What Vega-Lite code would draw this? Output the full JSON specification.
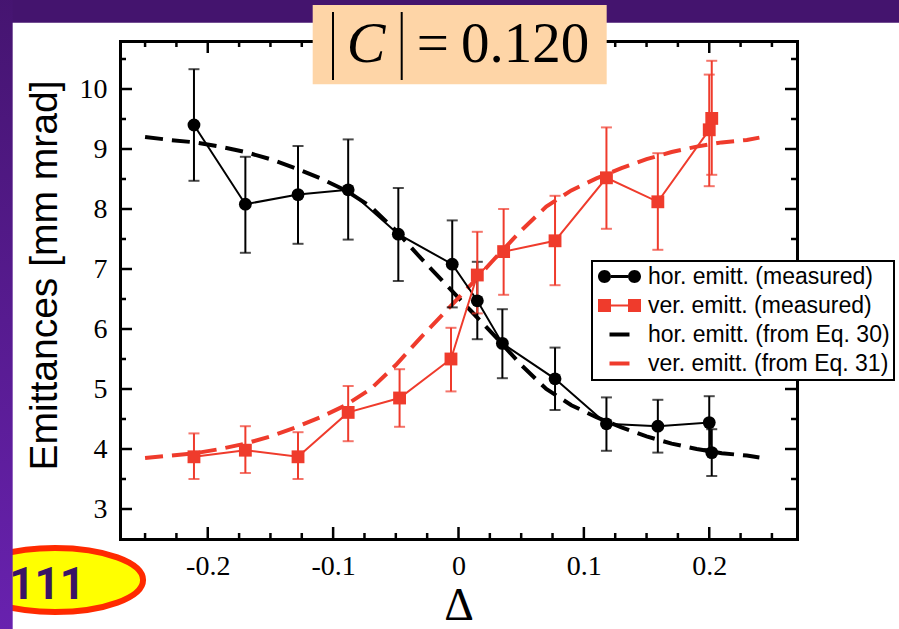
{
  "$schema": "https://vega.github.io/schema/vega-lite/v6.json",
  "width": 677,
  "height": 498,
  "autosize": {"type": "none"},
  "padding": {"left": 120, "top": 41, "right": 102, "bottom": 90},
  "background": "white",
  "config": {"view": {"stroke": null}},
  "datasets": {
    "xmaj": [{"v": -0.2}, {"v": -0.1}, {"v": 0}, {"v": 0.1}, {"v": 0.2}],
    "xmin": [{"v": -0.25}, {"v": -0.225}, {"v": -0.175}, {"v": -0.15}, {"v": -0.125}, {"v": -0.075}, {"v": -0.05}, {"v": -0.025}, {"v": 0.025}, {"v": 0.05}, {"v": 0.075}, {"v": 0.125}, {"v": 0.15}, {"v": 0.175}, {"v": 0.225}, {"v": 0.25}],
    "ymaj": [{"v": 3}, {"v": 4}, {"v": 5}, {"v": 6}, {"v": 7}, {"v": 8}, {"v": 9}, {"v": 10}],
    "ymin": [{"v": 3.5}, {"v": 4.5}, {"v": 5.5}, {"v": 6.5}, {"v": 7.5}, {"v": 8.5}, {"v": 9.5}, {"v": 10.5}],
    "meas": [
      {"series": "hor. emitt. (measured)", "x": -0.211, "y": 9.40, "lo": 8.47, "hi": 10.33},
      {"series": "hor. emitt. (measured)", "x": -0.170, "y": 8.08, "lo": 7.27, "hi": 8.87},
      {"series": "hor. emitt. (measured)", "x": -0.128, "y": 8.24, "lo": 7.42, "hi": 9.05},
      {"series": "hor. emitt. (measured)", "x": -0.088, "y": 8.32, "lo": 7.49, "hi": 9.16},
      {"series": "hor. emitt. (measured)", "x": -0.048, "y": 7.58, "lo": 6.80, "hi": 8.35},
      {"series": "hor. emitt. (measured)", "x": -0.005, "y": 7.08, "lo": 6.36, "hi": 7.81},
      {"series": "hor. emitt. (measured)", "x": 0.015, "y": 6.47, "lo": 5.83, "hi": 7.12},
      {"series": "hor. emitt. (measured)", "x": 0.035, "y": 5.76, "lo": 5.18, "hi": 6.33},
      {"series": "hor. emitt. (measured)", "x": 0.077, "y": 5.17, "lo": 4.65, "hi": 5.69},
      {"series": "hor. emitt. (measured)", "x": 0.118, "y": 4.42, "lo": 3.97, "hi": 4.86},
      {"series": "hor. emitt. (measured)", "x": 0.159, "y": 4.38, "lo": 3.94, "hi": 4.82},
      {"series": "hor. emitt. (measured)", "x": 0.200, "y": 4.44, "lo": 4.00, "hi": 4.88},
      {"series": "hor. emitt. (measured)", "x": 0.202, "y": 3.94, "lo": 3.55, "hi": 4.33},
      {"series": "ver. emitt. (measured)", "x": -0.211, "y": 3.87, "lo": 3.50, "hi": 4.26},
      {"series": "ver. emitt. (measured)", "x": -0.170, "y": 3.98, "lo": 3.60, "hi": 4.38},
      {"series": "ver. emitt. (measured)", "x": -0.128, "y": 3.87, "lo": 3.50, "hi": 4.28},
      {"series": "ver. emitt. (measured)", "x": -0.088, "y": 4.61, "lo": 4.13, "hi": 5.05},
      {"series": "ver. emitt. (measured)", "x": -0.047, "y": 4.85, "lo": 4.37, "hi": 5.33},
      {"series": "ver. emitt. (measured)", "x": -0.006, "y": 5.50, "lo": 4.96, "hi": 6.02},
      {"series": "ver. emitt. (measured)", "x": 0.015, "y": 6.90, "lo": 6.26, "hi": 7.62},
      {"series": "ver. emitt. (measured)", "x": 0.036, "y": 7.29, "lo": 6.57, "hi": 8.00},
      {"series": "ver. emitt. (measured)", "x": 0.077, "y": 7.47, "lo": 6.73, "hi": 8.22},
      {"series": "ver. emitt. (measured)", "x": 0.118, "y": 8.52, "lo": 7.67, "hi": 9.36},
      {"series": "ver. emitt. (measured)", "x": 0.159, "y": 8.12, "lo": 7.32, "hi": 8.93},
      {"series": "ver. emitt. (measured)", "x": 0.200, "y": 9.32, "lo": 8.38, "hi": 10.24},
      {"series": "ver. emitt. (measured)", "x": 0.202, "y": 9.51, "lo": 8.57, "hi": 10.47}
    ],
    "curves": [
      {"series": "hor. emitt. (from Eq. 30)", "x": -0.25, "y": 9.20},
      {"series": "hor. emitt. (from Eq. 30)", "x": -0.23, "y": 9.15},
      {"series": "hor. emitt. (from Eq. 30)", "x": -0.21, "y": 9.11},
      {"series": "hor. emitt. (from Eq. 30)", "x": -0.19, "y": 9.04},
      {"series": "hor. emitt. (from Eq. 30)", "x": -0.17, "y": 8.95},
      {"series": "hor. emitt. (from Eq. 30)", "x": -0.15, "y": 8.83},
      {"series": "hor. emitt. (from Eq. 30)", "x": -0.13, "y": 8.68},
      {"series": "hor. emitt. (from Eq. 30)", "x": -0.11, "y": 8.51},
      {"series": "hor. emitt. (from Eq. 30)", "x": -0.09, "y": 8.31},
      {"series": "hor. emitt. (from Eq. 30)", "x": -0.07, "y": 8.04},
      {"series": "hor. emitt. (from Eq. 30)", "x": -0.05, "y": 7.64},
      {"series": "hor. emitt. (from Eq. 30)", "x": -0.03, "y": 7.18},
      {"series": "hor. emitt. (from Eq. 30)", "x": -0.01, "y": 6.74},
      {"series": "hor. emitt. (from Eq. 30)", "x": 0.0, "y": 6.52},
      {"series": "hor. emitt. (from Eq. 30)", "x": 0.01, "y": 6.30},
      {"series": "hor. emitt. (from Eq. 30)", "x": 0.03, "y": 5.86},
      {"series": "hor. emitt. (from Eq. 30)", "x": 0.05, "y": 5.40},
      {"series": "hor. emitt. (from Eq. 30)", "x": 0.07, "y": 5.00},
      {"series": "hor. emitt. (from Eq. 30)", "x": 0.09, "y": 4.73},
      {"series": "hor. emitt. (from Eq. 30)", "x": 0.11, "y": 4.53},
      {"series": "hor. emitt. (from Eq. 30)", "x": 0.13, "y": 4.36},
      {"series": "hor. emitt. (from Eq. 30)", "x": 0.15, "y": 4.21},
      {"series": "hor. emitt. (from Eq. 30)", "x": 0.17, "y": 4.09},
      {"series": "hor. emitt. (from Eq. 30)", "x": 0.19, "y": 4.00},
      {"series": "hor. emitt. (from Eq. 30)", "x": 0.21, "y": 3.93},
      {"series": "hor. emitt. (from Eq. 30)", "x": 0.23, "y": 3.89},
      {"series": "hor. emitt. (from Eq. 30)", "x": 0.24, "y": 3.86},
      {"series": "ver. emitt. (from Eq. 31)", "x": -0.25, "y": 3.85},
      {"series": "ver. emitt. (from Eq. 31)", "x": -0.23, "y": 3.89},
      {"series": "ver. emitt. (from Eq. 31)", "x": -0.21, "y": 3.93},
      {"series": "ver. emitt. (from Eq. 31)", "x": -0.19, "y": 4.00},
      {"series": "ver. emitt. (from Eq. 31)", "x": -0.17, "y": 4.09},
      {"series": "ver. emitt. (from Eq. 31)", "x": -0.15, "y": 4.21},
      {"series": "ver. emitt. (from Eq. 31)", "x": -0.13, "y": 4.36},
      {"series": "ver. emitt. (from Eq. 31)", "x": -0.11, "y": 4.53},
      {"series": "ver. emitt. (from Eq. 31)", "x": -0.09, "y": 4.73},
      {"series": "ver. emitt. (from Eq. 31)", "x": -0.07, "y": 5.00},
      {"series": "ver. emitt. (from Eq. 31)", "x": -0.05, "y": 5.40},
      {"series": "ver. emitt. (from Eq. 31)", "x": -0.03, "y": 5.86},
      {"series": "ver. emitt. (from Eq. 31)", "x": -0.01, "y": 6.30},
      {"series": "ver. emitt. (from Eq. 31)", "x": 0.0, "y": 6.52},
      {"series": "ver. emitt. (from Eq. 31)", "x": 0.01, "y": 6.74},
      {"series": "ver. emitt. (from Eq. 31)", "x": 0.03, "y": 7.20},
      {"series": "ver. emitt. (from Eq. 31)", "x": 0.05, "y": 7.64},
      {"series": "ver. emitt. (from Eq. 31)", "x": 0.07, "y": 8.04},
      {"series": "ver. emitt. (from Eq. 31)", "x": 0.09, "y": 8.31},
      {"series": "ver. emitt. (from Eq. 31)", "x": 0.11, "y": 8.51},
      {"series": "ver. emitt. (from Eq. 31)", "x": 0.13, "y": 8.68},
      {"series": "ver. emitt. (from Eq. 31)", "x": 0.15, "y": 8.83},
      {"series": "ver. emitt. (from Eq. 31)", "x": 0.17, "y": 8.95},
      {"series": "ver. emitt. (from Eq. 31)", "x": 0.19, "y": 9.04},
      {"series": "ver. emitt. (from Eq. 31)", "x": 0.21, "y": 9.11},
      {"series": "ver. emitt. (from Eq. 31)", "x": 0.23, "y": 9.15},
      {"series": "ver. emitt. (from Eq. 31)", "x": 0.24, "y": 9.19}
    ]
  },
  "resolve": {"axis": {"x": "independent", "y": "independent"}},
  "layer": [
    {
      "data": {"values": [{}]},
      "mark": {"type": "rect", "fill": "#44146e", "clip": false},
      "encoding": {
        "x": {"datum": -0.4, "type": "quantitative", "scale": {"domain": [-0.27, 0.27], "nice": false, "zero": false}, "axis": null},
        "x2": {"datum": 0.4},
        "y": {"datum": 11.105, "type": "quantitative", "scale": {"domain": [2.5, 10.8], "nice": false, "zero": false}, "axis": null},
        "y2": {"datum": 11.9}
      }
    },
    {
      "data": {"name": "xmaj"},
      "mark": {"type": "rule", "stroke": "black", "strokeWidth": 2.5},
      "encoding": {"x": {"field": "v", "type": "quantitative", "axis": null}, "y": {"datum": 2.5, "type": "quantitative", "axis": null}, "y2": {"datum": 2.7}}
    },
    {
      "data": {"name": "xmin"},
      "mark": {"type": "rule", "stroke": "black", "strokeWidth": 2.5},
      "encoding": {"x": {"field": "v", "type": "quantitative", "axis": null}, "y": {"datum": 2.5, "type": "quantitative", "axis": null}, "y2": {"datum": 2.6}}
    },
    {
      "data": {"name": "xmaj"},
      "mark": {"type": "rule", "stroke": "black", "strokeWidth": 2.5},
      "encoding": {"x": {"field": "v", "type": "quantitative", "axis": null}, "y": {"datum": 10.8, "type": "quantitative", "axis": null}, "y2": {"datum": 10.6}}
    },
    {
      "data": {"name": "xmin"},
      "mark": {"type": "rule", "stroke": "black", "strokeWidth": 2.5},
      "encoding": {"x": {"field": "v", "type": "quantitative", "axis": null}, "y": {"datum": 10.8, "type": "quantitative", "axis": null}, "y2": {"datum": 10.7}}
    },
    {
      "data": {"name": "ymaj"},
      "mark": {"type": "rule", "stroke": "black", "strokeWidth": 2.5},
      "encoding": {"y": {"field": "v", "type": "quantitative", "axis": null}, "x": {"datum": -0.27, "type": "quantitative", "axis": null}, "x2": {"datum": -0.26043}}
    },
    {
      "data": {"name": "ymin"},
      "mark": {"type": "rule", "stroke": "black", "strokeWidth": 2.5},
      "encoding": {"y": {"field": "v", "type": "quantitative", "axis": null}, "x": {"datum": -0.27, "type": "quantitative", "axis": null}, "x2": {"datum": -0.26521}}
    },
    {
      "data": {"name": "ymaj"},
      "mark": {"type": "rule", "stroke": "black", "strokeWidth": 2.5},
      "encoding": {"y": {"field": "v", "type": "quantitative", "axis": null}, "x": {"datum": 0.27, "type": "quantitative", "axis": null}, "x2": {"datum": 0.26043}}
    },
    {
      "data": {"name": "ymin"},
      "mark": {"type": "rule", "stroke": "black", "strokeWidth": 2.5},
      "encoding": {"y": {"field": "v", "type": "quantitative", "axis": null}, "x": {"datum": 0.27, "type": "quantitative", "axis": null}, "x2": {"datum": 0.26521}}
    },
    {
      "data": {"values": [{}]},
      "mark": {"type": "rect", "fill": "#fed5a7", "clip": false},
      "encoding": {
        "x": {"datum": -0.1163, "type": "quantitative", "axis": null},
        "x2": {"datum": 0.1182},
        "y": {"datum": 11.4, "type": "quantitative", "axis": null},
        "y2": {"datum": 10.078}
      }
    },
    {
      "data": {"values": [{}]},
      "mark": {"type": "rule", "stroke": "black", "strokeWidth": 2, "clip": false},
      "encoding": {
        "x": {"datum": -0.1001, "type": "quantitative", "axis": null},
        "y": {"datum": 11.283, "type": "quantitative", "axis": null},
        "y2": {"datum": 10.15}
      }
    },
    {
      "data": {"values": [{}]},
      "mark": {"type": "rule", "stroke": "black", "strokeWidth": 2, "clip": false},
      "encoding": {
        "x": {"datum": -0.0453, "type": "quantitative", "axis": null},
        "y": {"datum": 11.283, "type": "quantitative", "axis": null},
        "y2": {"datum": 10.15}
      }
    },
    {
      "data": {"values": [{}]},
      "mark": {"type": "text", "text": "C", "font": "Liberation Serif", "fontStyle": "italic", "fontSize": 58, "align": "center", "baseline": "alphabetic", "color": "black", "clip": false},
      "encoding": {
        "x": {"datum": -0.0738, "type": "quantitative", "axis": null},
        "y": {"datum": 10.45, "type": "quantitative", "axis": null}
      }
    },
    {
      "data": {"values": [{}]},
      "mark": {"type": "text", "text": "=", "font": "Liberation Serif", "fontSize": 57, "align": "center", "baseline": "alphabetic", "color": "black", "clip": false},
      "encoding": {
        "x": {"datum": -0.0205, "type": "quantitative", "axis": null},
        "y": {"datum": 10.45, "type": "quantitative", "axis": null}
      }
    },
    {
      "data": {"values": [{}]},
      "mark": {"type": "text", "text": "0.120", "font": "Liberation Serif", "fontSize": 57, "align": "left", "baseline": "alphabetic", "color": "black", "clip": false},
      "encoding": {
        "x": {"datum": 0.002, "type": "quantitative", "axis": null},
        "y": {"datum": 10.45, "type": "quantitative", "axis": null}
      }
    },
    {
      "data": {"name": "curves"},
      "mark": {"type": "line", "strokeWidth": 4, "strokeDash": [18, 9], "clip": false},
      "encoding": {
        "x": {
          "field": "x", "type": "quantitative",
          "axis": {
            "orient": "bottom", "title": "Δ",
            "values": [-0.2, -0.1, 0, 0.1, 0.2],
            "labelExpr": "(datum.value < -0.001 ? '-' : '') + format(abs(datum.value), '.1~f')",
            "ticks": false,
            "domain": true, "domainWidth": 3, "domainColor": "black", "domainCap": "square",
            "grid": false,
            "labelFont": "Liberation Serif", "labelFontSize": 28, "labelColor": "black", "labelPadding": 13,
            "labelFlush": false, "labelOverlap": false, "labelBound": false,
            "titleFont": "Liberation Serif", "titleFontSize": 46, "titleFontWeight": "normal", "titleColor": "black",
            "titleBaseline": "alphabetic", "titleY": 80,
            "zindex": 0
          }
        },
        "y": {
          "field": "y", "type": "quantitative",
          "axis": {
            "orient": "left", "title": "Emittances [mm mrad]",
            "values": [3, 4, 5, 6, 7, 8, 9, 10],
            "labelExpr": "format(datum.value, 'd')",
            "ticks": false,
            "domain": true, "domainWidth": 3, "domainColor": "black", "domainCap": "square",
            "grid": false,
            "labelFont": "Liberation Serif", "labelFontSize": 28, "labelColor": "black", "labelPadding": 13,
            "labelFlush": false, "labelOverlap": false, "labelBound": false,
            "titleFont": "Liberation Sans", "titleFontSize": 39, "titleFontWeight": "normal", "titleColor": "black",
            "titleAngle": -90, "titleAlign": "center", "titleBaseline": "middle", "titleX": -76, "titleY": 234,
            "zindex": 0
          }
        },
        "color": {
          "field": "series", "type": "nominal",
          "scale": {
            "domain": ["hor. emitt. (measured)", "ver. emitt. (measured)", "hor. emitt. (from Eq. 30)", "ver. emitt. (from Eq. 31)"],
            "range": ["#000000", "#ef3b2c", "#000000", "#ef3b2c"]
          },
          "legend": {
            "orient": "none", "legendX": 472, "legendY": 220, "title": null,
            "labelFont": "Liberation Sans", "labelFontSize": 23, "labelColor": "black", "labelLimit": 400,
            "symbolSize": 400, "symbolOffset": 12, "labelOffset": 17,
            "rowPadding": 5, "padding": 4,
            "fillColor": "white", "strokeColor": "black",
            "zindex": 1,
            "encode": {
              "legend": {"update": {"strokeWidth": {"value": 2}}},
              "symbols": {
                "update": {
                  "shape": {"signal": "datum.value === 'hor. emitt. (measured)' ? 'M-2.15,0A0.65,0.65 0 1,1 -0.85,0A0.65,0.65 0 1,1 -2.15,0Z M0.85,0A0.65,0.65 0 1,1 2.15,0A0.65,0.65 0 1,1 0.85,0Z M-0.85,-0.15H0.85V0.15H-0.85Z' : datum.value === 'ver. emitt. (measured)' ? 'M-2.15,-0.65H-0.85V0.65H-2.15Z M0.85,-0.65H2.15V0.65H0.85Z M-0.85,-0.1H0.85V0.1H-0.85Z' : 'M-1,-0.2H1V0.2H-1Z'"},
                  "fill": {"signal": "indexof(datum.value, 'hor') === 0 ? '#000000' : '#ef3b2c'"},
                  "stroke": {"value": "transparent"},
                  "strokeWidth": {"value": 0},
                  "strokeDash": {"value": []},
                  "opacity": {"value": 1},
                  "size": {"value": 400}
                }
              }
            }
          }
        }
      }
    },
    {
      "data": {"name": "meas"},
      "mark": {"type": "line", "strokeWidth": 2, "clip": false},
      "encoding": {
        "x": {
          "field": "x", "type": "quantitative",
          "axis": {"orient": "top", "title": null, "labels": false, "ticks": false,
            "domain": true, "domainWidth": 3, "domainColor": "black", "domainCap": "square", "grid": false, "zindex": 0}
        },
        "y": {
          "field": "y", "type": "quantitative",
          "axis": {"orient": "right", "title": null, "labels": false, "ticks": false,
            "domain": true, "domainWidth": 3, "domainColor": "black", "domainCap": "square", "grid": false, "zindex": 0}
        },
        "color": {"field": "series", "type": "nominal"}
      }
    },
    {
      "data": {"name": "meas"},
      "mark": {"type": "errorbar", "ticks": true, "thickness": 2, "size": 11},
      "encoding": {
        "x": {"field": "x", "type": "quantitative", "axis": null},
        "y": {"field": "lo", "type": "quantitative", "axis": null},
        "y2": {"field": "hi"},
        "color": {"field": "series", "type": "nominal"}
      }
    },
    {
      "data": {"name": "meas"},
      "mark": {"type": "point", "filled": true, "opacity": 1, "size": 165, "clip": false},
      "encoding": {
        "x": {"field": "x", "type": "quantitative", "axis": null},
        "y": {"field": "y", "type": "quantitative", "axis": null},
        "color": {"field": "series", "type": "nominal"},
        "shape": {"field": "series", "type": "nominal", "scale": {"domain": ["hor. emitt. (measured)", "ver. emitt. (measured)"], "range": ["circle", "square"]}, "legend": null}
      }
    },
    {
      "data": {"values": [{}]},
      "mark": {"type": "point", "shape": "M-1,0A1,0.364 0 1,1 1,0A1,0.364 0 1,1 -1,0Z", "fill": "#ffff00", "stroke": "#ff2a00", "strokeWidth": 6, "opacity": 1, "size": 30976, "clip": false},
      "encoding": {
        "x": {"datum": -0.3218, "type": "quantitative", "axis": null},
        "y": {"datum": 1.817, "type": "quantitative", "axis": null}
      }
    },
    {
      "data": {"values": [{}]},
      "mark": {"type": "text", "text": "111", "font": "Roboto", "fontWeight": "bold", "fontSize": 44, "align": "center", "baseline": "alphabetic", "color": "#3a1466", "clip": false},
      "encoding": {
        "x": {"datum": -0.3282, "type": "quantitative", "axis": null},
        "y": {"datum": 1.5, "type": "quantitative", "axis": null}
      }
    },
    {
      "data": {"values": [{}]},
      "mark": {"type": "rect", "clip": false, "fill": {"gradient": "linear", "x1": 0, "y1": 0, "x2": 0, "y2": 1, "stops": [{"offset": 0, "color": "#44146e"}, {"offset": 1, "color": "#6a22b2"}]}},
      "encoding": {
        "x": {"datum": -0.38, "type": "quantitative", "axis": null},
        "x2": {"datum": -0.3556},
        "y": {"datum": 11.9, "type": "quantitative", "axis": null},
        "y2": {"datum": 0.4}
      }
    }
  ]
}
